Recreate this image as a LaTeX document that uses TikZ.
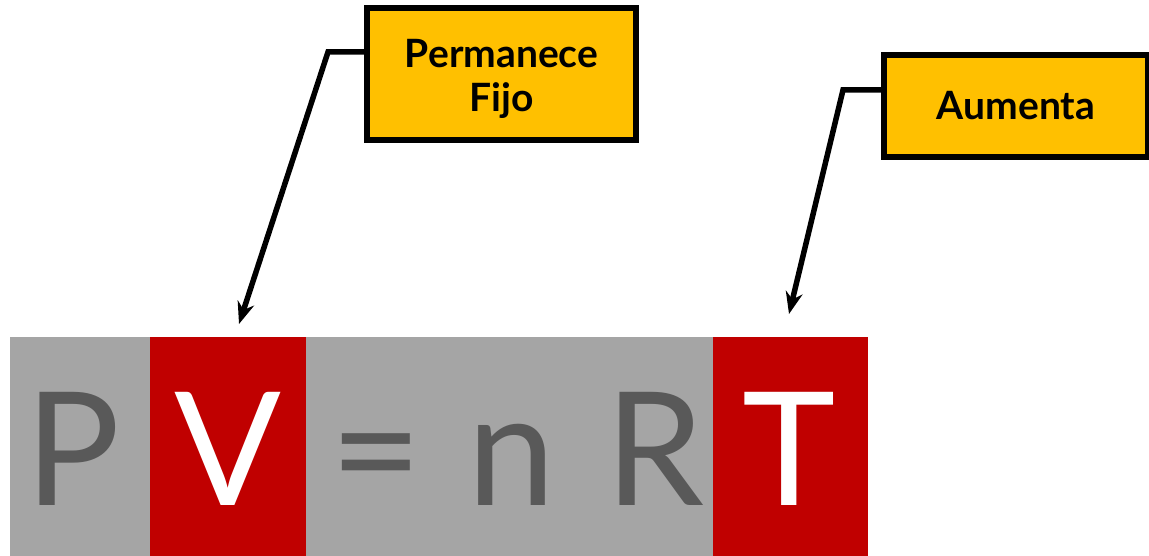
\documentclass[tikz,border=0pt]{standalone}
\usepackage{fontspec}
\setmainfont{Lato}
\usetikzlibrary{shadows,arrows.meta}
\definecolor{stripgray}{HTML}{A5A5A5}
\definecolor{stripred}{HTML}{C00000}
\definecolor{lettergray}{HTML}{595959}
\definecolor{callout}{HTML}{FFC000}
\tikzset{
  calloutbox/.style={draw=black, line width=5.5pt, fill=callout, align=center,
    font=\fontsize{39}{44}\selectfont\bfseries, inner sep=0pt,
    drop shadow={opacity=0.35, shadow xshift=2pt, shadow yshift=-3pt}},
  leader/.style={line width=5.5pt, line join=miter, -{Stealth[length=22pt,width=17pt]}},
  cell/.style={draw=none, inner sep=0pt, outer sep=0pt},
  glyph/.style={inner sep=0pt, anchor=base, font=\fontsize{158}{158}\selectfont},
}
\begin{document}
\begin{tikzpicture}[x=1pt,y=-1pt]
\useasboundingbox (0,0) rectangle (1149,556);
% strip
\node[cell, fill=stripgray, minimum width=140pt, minimum height=219pt, anchor=north west] (gP) at (10,337) {};
\node[cell, fill=stripred, minimum width=156pt, minimum height=219pt, anchor=north west] (rV) at (150,337) {};
\node[cell, fill=stripgray, minimum width=407pt, minimum height=219pt, anchor=north west] (gM) at (306,337) {};
\node[cell, fill=stripred, minimum width=155pt, minimum height=219pt, anchor=north west] (rT) at (713,337) {};
% letters
\node[glyph, text=lettergray] (P) at (73,505) {P};
\node[glyph, text=white] (V) at (228,505) {V};
\node[glyph, text=lettergray] (eq) at (376,505) {=};
\node[glyph, text=lettergray] (n) at (512,505) {n};
\node[glyph, text=lettergray] (R) at (655,505) {R};
\node[glyph, text=white] (T) at (789,505) {T};
% callouts
\node[calloutbox, minimum width=269pt, minimum height=132pt] (c1) at (501.5,74)
  {\raisebox{-7pt}[\height][\depth]{\begin{tabular}{@{}c@{}}Permanece\\Fijo\end{tabular}}};
\node[calloutbox, minimum width=264pt, minimum height=102pt] (c2) at (1016,106) {Aumenta};
% leaders
\coordinate (k1) at (328,52);
\coordinate (t1) at (239,324);
\coordinate (k2) at (843,90);
\coordinate (t2) at (789,314);
\draw[leader] (c1.west |- k1) -- (k1) -- (t1);
\draw[leader] (c2.west |- k2) -- (k2) -- (t2);
\end{tikzpicture}
\end{document}
